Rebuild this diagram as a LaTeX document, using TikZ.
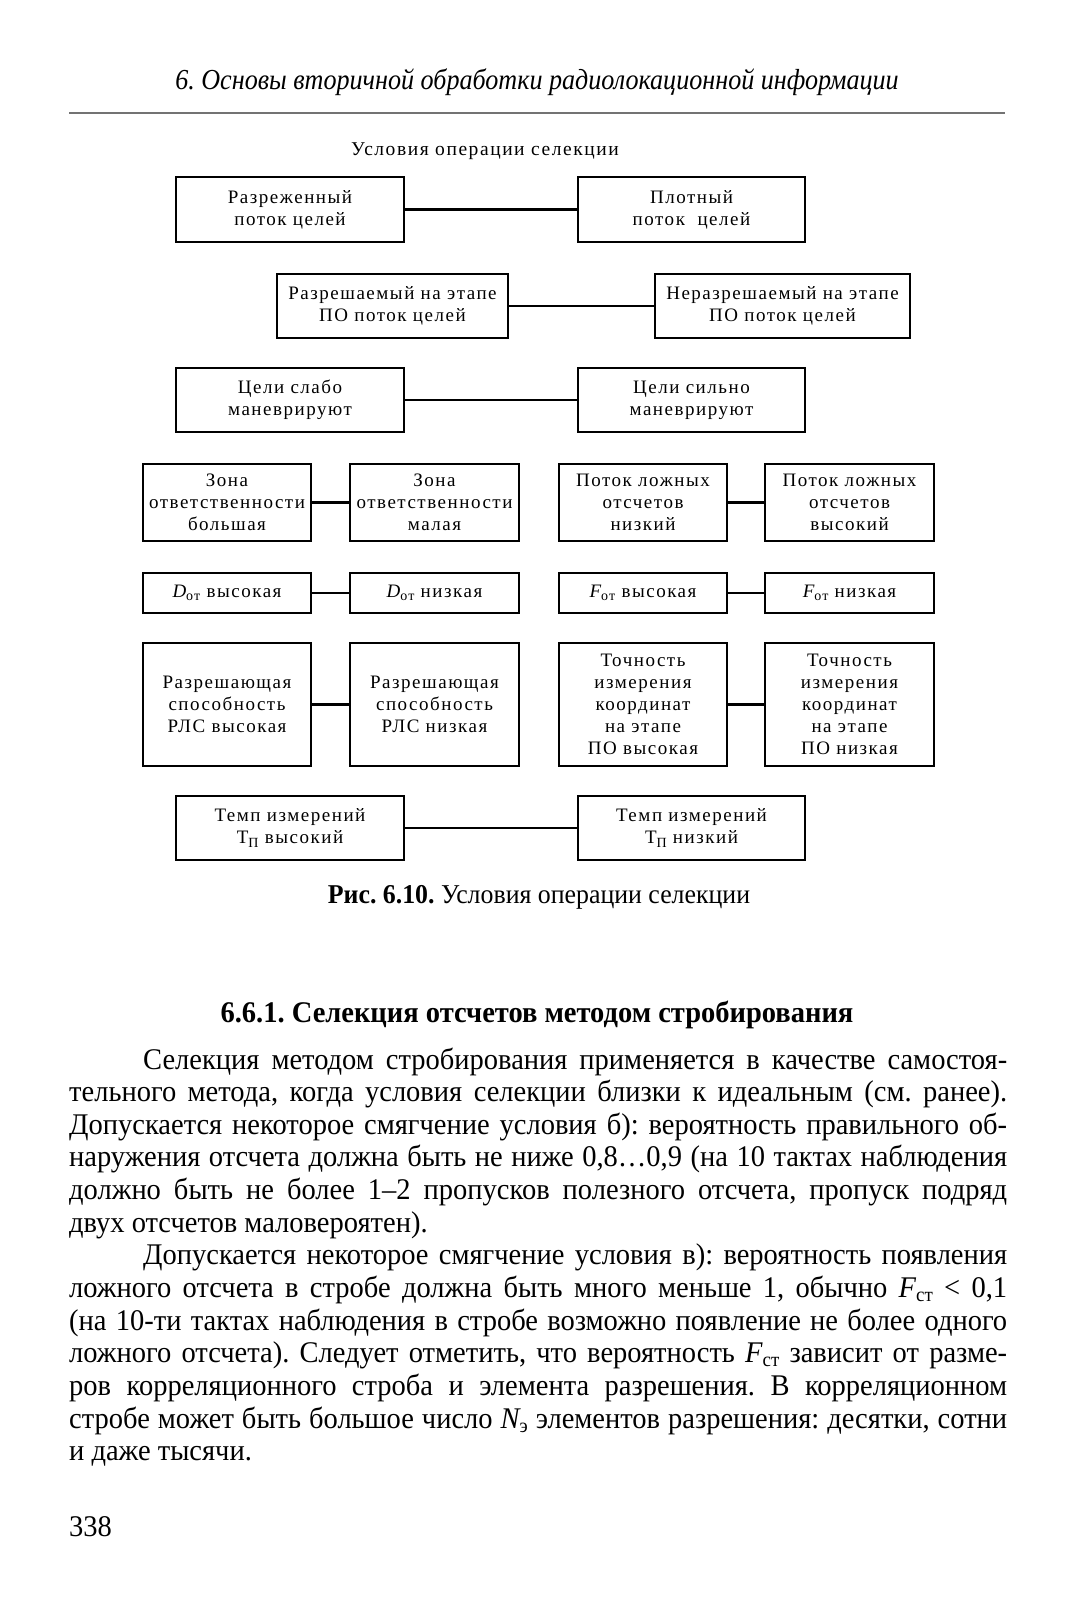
\documentclass[tikz,border=0pt]{standalone}
\usepackage{fontspec}
\setmainfont[FakeStretch=0.95]{Liberation Serif}
\newfontfamily\hdrfont[FakeStretch=0.9]{Liberation Serif}
\newfontfamily\dfont[LetterSpace=8]{Liberation Serif}
\newcommand{\bsize}{\fontsize{30}{32.65}\selectfont}
\newcommand{\dsub}[1]{\raisebox{-0.35ex}{\fontsize{14}{14}\selectfont #1}}
\newcommand{\tsub}[1]{\raisebox{-0.3ex}{\fontsize{20}{20}\selectfont #1}}
\newcommand{\jline}[2]{\makebox[#1][s]{#2}}
\frenchspacing
\tikzset{
  box/.style={draw, line width=2.6pt, inner sep=0pt, align=center,
    font={\dfont\fontsize{19}{22}\selectfont}},
  conn/.style={line width=2.6pt},
  btext/.style={anchor=base west, inner sep=0pt, font=\bsize},
}
\begin{document}
\begin{tikzpicture}[x=1pt, y=-1pt]
\fill[white] (0,0) rectangle (1082,1601);
\useasboundingbox (0,0) rectangle (1082,1601);

% running header
\node[anchor=base, inner sep=0pt, font={\hdrfont\fontsize{29}{32}\selectfont\itshape}] (hdr) at (537,89)
  {6. Основы вторичной обработки радиолокационной информации};
\coordinate (rl) at (69,113);
\coordinate (rr) at (1005,113);
\draw[line width=2pt, black!55] (rl) -- (rr);

% diagram title
\node[anchor=base, inner sep=0pt, font={\dfont\fontsize{19.5}{22}\selectfont}] (title) at (485,155)
  {Условия операции селекции};

% row 1
\node[box, minimum width=228pt, minimum height=65pt] (a1) at (290,209.5) {Разреженный\\поток целей};
\node[box, minimum width=227pt, minimum height=65pt] (b1) at (691.5,209.5) {Плотный\\поток\ \ целей};
\draw[conn] (a1.east) -- (b1.west);
% row 2
\node[box, minimum width=231pt, minimum height=64pt] (a2) at (392.5,306) {Разрешаемый на этапе\\ПО поток целей};
\node[box, minimum width=255pt, minimum height=64pt] (b2) at (782.5,306) {Неразрешаемый на этапе\\ПО поток целей};
\draw[conn] (a2.east) -- (b2.west);
% row 3
\node[box, minimum width=228pt, minimum height=64pt] (a3) at (290,400) {Цели слабо\\маневрируют};
\node[box, minimum width=227pt, minimum height=64pt] (b3) at (691.5,400) {Цели сильно\\маневрируют};
\draw[conn] (a3.east) -- (b3.west);
% row 4
\node[box, minimum width=168pt, minimum height=77pt] (a4) at (227,502.5) {Зона\\ответственности\\большая};
\node[box, minimum width=169pt, minimum height=77pt] (b4) at (434.5,502.5) {Зона\\ответственности\\малая};
\node[box, minimum width=168pt, minimum height=77pt] (c4) at (643,502.5) {Поток ложных\\отсчетов\\низкий};
\node[box, minimum width=169pt, minimum height=77pt] (d4) at (849.5,502.5) {Поток ложных\\отсчетов\\высокий};
\draw[conn] (a4.east) -- (b4.west);
\draw[conn] (c4.east) -- (d4.west);
% row 5
\node[box, minimum width=168pt, minimum height=40pt] (a5) at (227,593) {{\itshape D}\dsub{от} высокая};
\node[box, minimum width=169pt, minimum height=40pt] (b5) at (434.5,593) {{\itshape D}\dsub{от} низкая};
\node[box, minimum width=168pt, minimum height=40pt] (c5) at (643,593) {{\itshape F}\dsub{от} высокая};
\node[box, minimum width=169pt, minimum height=40pt] (d5) at (849.5,593) {{\itshape F}\dsub{от} низкая};
\draw[conn] (a5.east) -- (b5.west);
\draw[conn] (c5.east) -- (d5.west);
% row 6
\node[box, minimum width=168pt, minimum height=123pt] (a6) at (227,704.5) {Разрешающая\\способность\\РЛС высокая};
\node[box, minimum width=169pt, minimum height=123pt] (b6) at (434.5,704.5) {Разрешающая\\способность\\РЛС низкая};
\node[box, minimum width=168pt, minimum height=123pt] (c6) at (643,704.5) {Точность\\измерения\\координат\\на этапе\\ПО высокая};
\node[box, minimum width=169pt, minimum height=123pt] (d6) at (849.5,704.5) {Точность\\измерения\\координат\\на этапе\\ПО низкая};
\draw[conn] (a6.east) -- (b6.west);
\draw[conn] (c6.east) -- (d6.west);
% row 7
\node[box, minimum width=228pt, minimum height=64pt] (a7) at (290,828) {Темп измерений\\Т\dsub{П} высокий};
\node[box, minimum width=227pt, minimum height=64pt] (b7) at (691.5,828) {Темп измерений\\Т\dsub{П} низкий};
\draw[conn] (a7.east) -- (b7.west);

% caption
\node[anchor=base, inner sep=0pt, font={\fontsize{27.2}{30}\selectfont}] (cap) at (539,903)
  {\textbf{Рис. 6.10.} Условия операции селекции};

% section heading
\node[anchor=base, inner sep=0pt, font={\fontsize{30}{32}\selectfont\bfseries}] (sec) at (537,1022)
  {6.6.1. Селекция отсчетов методом стробирования};

% paragraph 1
\node[btext] (l1) at (143,1069) {\jline{864pt}{Селекция методом стробирования применяется в качестве самостоя-}};
\node[btext] (l2) at (69,1101.65) {\jline{938pt}{тельного метода, когда условия селекции близки к идеальным (см. ранее).}};
\node[btext] (l3) at (69,1134.3) {\jline{938pt}{Допускается некоторое смягчение условия б): вероятность правильного об-}};
\node[btext] (l4) at (69,1166.95) {\jline{938pt}{наружения отсчета должна быть не ниже 0,8…0,9 (на 10 тактах наблюдения}};
\node[btext] (l5) at (69,1199.6) {\jline{938pt}{должно быть не более 1–2 пропусков полезного отсчета, пропуск подряд}};
\node[btext] (l6) at (69,1232.25) {двух отсчетов маловероятен).};
% paragraph 2
\node[btext] (m1) at (143,1264.9) {\jline{864pt}{Допускается некоторое смягчение условия в): вероятность появления}};
\node[btext] (m2) at (69,1297.55) {\jline{938pt}{ложного отсчета в стробе должна быть много меньше 1, обычно {\itshape F}\tsub{ст} < 0,1}};
\node[btext] (m3) at (69,1330.2) {\jline{938pt}{(на 10-ти тактах наблюдения в стробе возможно появление не более одного}};
\node[btext] (m4) at (69,1362.85) {\jline{938pt}{ложного отсчета). Следует отметить, что вероятность {\itshape F}\tsub{ст} зависит от разме-}};
\node[btext] (m5) at (69,1395.5) {\jline{938pt}{ров корреляционного строба и элемента разрешения. В корреляционном}};
\node[btext] (m6) at (69,1428.15) {\jline{938pt}{стробе может быть большое число {\itshape N}\tsub{э} элементов разрешения: десятки, сотни}};
\node[btext] (m7) at (69,1460.8) {и даже тысячи.};

% page number
\node[btext] (pg) at (69,1536) {338};
\end{tikzpicture}
\end{document}
